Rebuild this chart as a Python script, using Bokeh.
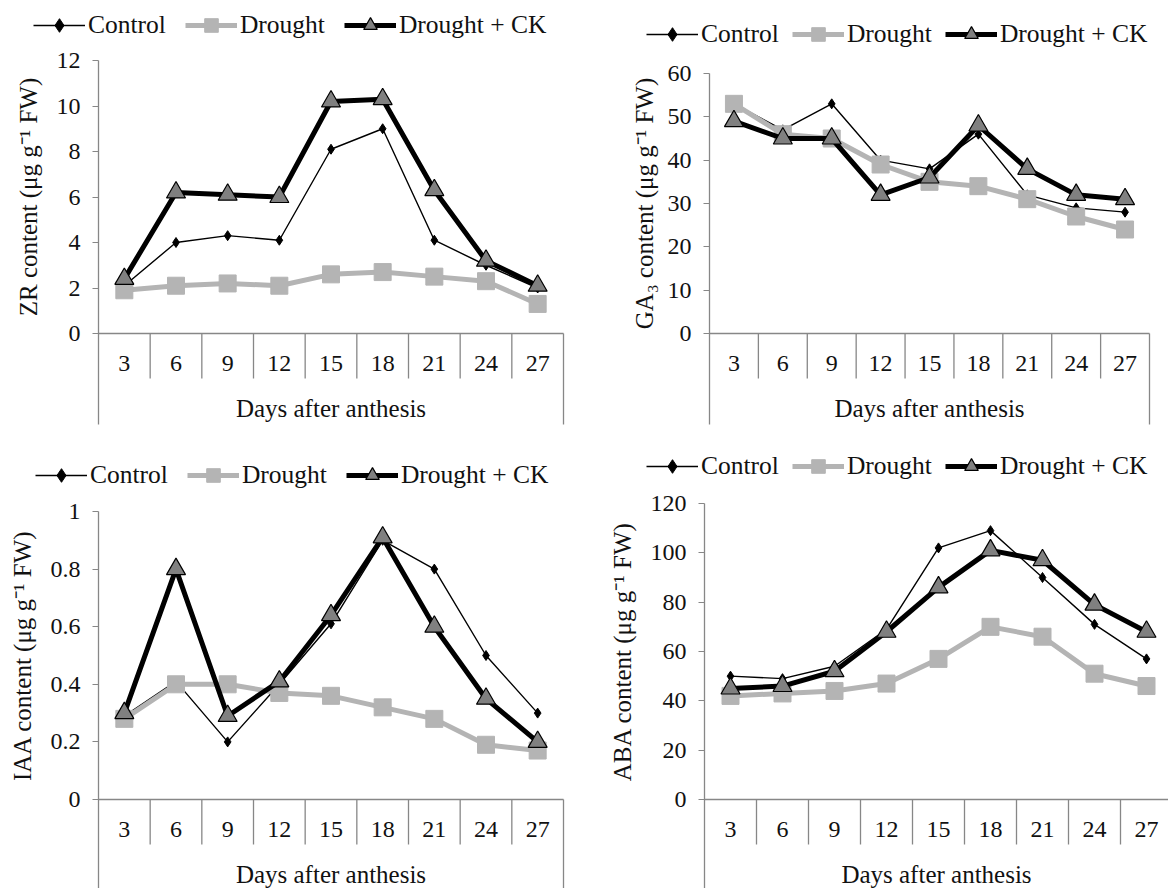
import math
from bokeh.plotting import figure
from bokeh.models import (Range1d, LinearAxis, FixedTicker, Legend, LegendItem, Label)
from bokeh.layouts import column, row
from bokeh.embed import file_html
from bokeh.resources import INLINE

# ---------------- data ----------------
days = ["3", "6", "9", "12", "15", "18", "21", "24", "27"]
series_names = ["Control", "Drought", "Drought + CK"]

zr_control = [2.1, 4.0, 4.3, 4.1, 8.1, 9.0, 4.1, 3.0, 2.0]
zr_drought = [1.9, 2.1, 2.2, 2.1, 2.6, 2.7, 2.5, 2.3, 1.3]
zr_drought_ck = [2.4, 6.2, 6.1, 6.0, 10.2, 10.3, 6.3, 3.2, 2.1]

ga3_control = [53, 47, 53, 40, 38, 46, 32, 29, 28]
ga3_drought = [53, 46, 45, 39, 35, 34, 31, 27, 24]
ga3_drought_ck = [49, 45, 45, 32, 36, 48, 38, 32, 31]

iaa_control = [0.29, 0.41, 0.20, 0.40, 0.61, 0.90, 0.80, 0.50, 0.30]
iaa_drought = [0.28, 0.40, 0.40, 0.37, 0.36, 0.32, 0.28, 0.19, 0.17]
iaa_drought_ck = [0.30, 0.80, 0.29, 0.41, 0.64, 0.91, 0.60, 0.35, 0.20]

aba_control = [50, 49, 54, 69, 102, 109, 90, 71, 57]
aba_drought = [42, 43, 44, 47, 57, 70, 66, 51, 46]
aba_drought_ck = [45, 46, 52, 68, 86, 101, 97, 79, 68]

zr_ticks = [0, 2, 4, 6, 8, 10, 12]
ga3_ticks = [0, 10, 20, 30, 40, 50, 60]
iaa_ticks = [0, 0.2, 0.4, 0.6, 0.8, 1]
aba_ticks = [0, 20, 40, 60, 80, 100, 120]
zr_tick_labels = ["0", "2", "4", "6", "8", "10", "12"]
ga3_tick_labels = ["0", "10", "20", "30", "40", "50", "60"]
iaa_tick_labels = ["0", "0.2", "0.4", "0.6", "0.8", "1"]
aba_tick_labels = ["0", "20", "40", "60", "80", "100", "120"]

x_title = "Days after anthesis"
zr_title = "ZR content (\u03bcg g\u207b\u00b9 FW)"
ga3_title = "GA\u2083 content (\u03bcg g\u207b\u00b9 FW)"
iaa_title = "IAA content (\u03bcg g\u207b\u00b9 FW)"
aba_title = "ABA content (\u03bcg g\u207b\u00b9 FW)"

# ---------------- style ----------------
FONT = "Liberation Serif"
GREY_AXIS = "#878787"
DROUGHT_GREY = "#b4b4b4"
TRI_FILL = "#808080"
TXT = "#111111"


def make_panel(ytitle, ticks, tick_labels, ctrl, drt, dck, W, H, ax_left, ax_right, top_px,
               zero_px, table_bottom_px, legend_left, legend_cy, legend_spacing, title_x):
    n = len(days)
    xs = [i + 0.5 for i in range(n)]
    cw = (ax_right - ax_left) / n
    x_start = -ax_left / cw
    x_end = n + (W - ax_right) / cw
    ymax = ticks[-1]
    ppu = (zero_px - top_px) / ymax
    y_top = ymax + top_px / ppu
    y_bottom = -(H - zero_px) / ppu
    y_table = -(table_bottom_px - zero_px) / ppu
    y_sep = -45 / ppu

    p = figure(width=W, height=H, x_range=Range1d(x_start, x_end),
               y_range=Range1d(y_bottom, y_top),
               x_axis_location=None, y_axis_location=None,
               output_backend="svg", toolbar_location=None, min_border=0)
    p.min_border_left = p.min_border_right = p.min_border_top = p.min_border_bottom = 0
    p.outline_line_color = None
    p.grid.grid_line_color = None
    p.background_fill_color = "white"
    p.border_fill_color = "white"

    # y axis (fixed at the start of the categories)
    yax = LinearAxis(ticker=FixedTicker(ticks=ticks), fixed_location=0,
                     bounds=(y_table, ymax))
    yax.major_label_overrides = {t: s for t, s in zip(ticks, tick_labels)}
    yax.axis_line_color = GREY_AXIS
    yax.axis_line_width = 1.3
    yax.major_tick_line_color = GREY_AXIS
    yax.major_tick_out = 6
    yax.major_tick_in = 0
    yax.minor_tick_line_color = None
    yax.major_label_standoff = 12
    yax.major_label_text_font = FONT
    yax.major_label_text_font_size = "24px"
    yax.major_label_text_color = TXT
    p.add_layout(yax, "left")

    # x axis (day labels) fixed at y = 0
    xax = LinearAxis(ticker=FixedTicker(ticks=xs), fixed_location=0, bounds=(0, n))
    xax.major_label_overrides = {x: d for x, d in zip(xs, days)}
    xax.axis_line_color = GREY_AXIS
    xax.axis_line_width = 1.3
    xax.major_tick_line_color = None
    xax.minor_tick_line_color = None
    xax.major_tick_out = 0
    xax.major_tick_in = 0
    xax.major_label_standoff = 22
    xax.major_label_text_font = FONT
    xax.major_label_text_font_size = "24px"
    xax.major_label_text_color = TXT
    xax.axis_label = x_title
    xax.axis_label_standoff = 21
    xax.axis_label_text_font = FONT
    xax.axis_label_text_font_size = "25px"
    xax.axis_label_text_font_style = "normal"
    xax.axis_label_text_color = TXT
    p.add_layout(xax, "below")

    # separators of the category table
    bounds = list(range(1, n))
    p.segment(x0=bounds, y0=[0] * len(bounds), x1=bounds, y1=[y_sep] * len(bounds),
              line_color=GREY_AXIS, line_width=1.3)
    p.segment(x0=[n], y0=[0], x1=[n], y1=[y_table], line_color=GREY_AXIS, line_width=1.3)

    # series
    l1 = p.line(xs, ctrl, line_color="black", line_width=1.4, line_join="round")
    s1 = p.scatter(xs, ctrl, marker="diamond", size=10, fill_color="black", line_color="black")
    l2 = p.line(xs, drt, line_color=DROUGHT_GREY, line_width=5, line_join="round")
    s2 = p.scatter(xs, drt, marker="square", size=17, fill_color=DROUGHT_GREY,
                   line_color=DROUGHT_GREY)
    l3 = p.line(xs, dck, line_color="black", line_width=5, line_join="round")
    s3 = p.scatter(xs, dck, marker="triangle", size=19, fill_color=TRI_FILL,
                   line_color="black", line_width=1.2)

    leg_h = 34
    legend = Legend(items=[LegendItem(label=series_names[0], renderers=[l1, s1]),
                           LegendItem(label=series_names[1], renderers=[l2, s2]),
                           LegendItem(label=series_names[2], renderers=[l3, s3])],
                    orientation="horizontal",
                    location=(legend_left, H - legend_cy - leg_h / 2),
                    glyph_width=52, glyph_height=leg_h, label_height=leg_h,
                    label_standoff=3, spacing=legend_spacing, padding=0, margin=0,
                    border_line_color=None, background_fill_alpha=0,
                    label_text_font=FONT, label_text_font_size="25.5px",
                    label_text_color=TXT)
    p.add_layout(legend)

    p.add_layout(Label(x=title_x, y=ymax / 2, x_units="screen", y_units="data",
                       text=ytitle, angle=math.pi / 2, text_align="center",
                       text_baseline="middle", text_font=FONT, text_font_size="25px",
                       text_color=TXT))
    return p


p1 = make_panel(zr_title, zr_ticks, zr_tick_labels, zr_control, zr_drought, zr_drought_ck,
                W=590, H=440, ax_left=98, ax_right=563, top_px=60, zero_px=333,
                table_bottom_px=424, legend_left=33, legend_cy=25, legend_spacing=19,
                title_x=28)
p2 = make_panel(ga3_title, ga3_ticks, ga3_tick_labels, ga3_control, ga3_drought,
                ga3_drought_ck,
                W=578, H=440, ax_left=119, ax_right=559, top_px=73, zero_px=333,
                table_bottom_px=424, legend_left=56, legend_cy=34, legend_spacing=13,
                title_x=54)
p3 = make_panel(iaa_title, iaa_ticks, iaa_tick_labels, iaa_control, iaa_drought,
                iaa_drought_ck,
                W=590, H=448, ax_left=98, ax_right=563, top_px=71, zero_px=359,
                table_bottom_px=460, legend_left=35, legend_cy=35, legend_spacing=19,
                title_x=22)
p4 = make_panel(aba_title, aba_ticks, aba_tick_labels, aba_control, aba_drought,
                aba_drought_ck,
                W=578, H=448, ax_left=114, ax_right=582, top_px=63, zero_px=359,
                table_bottom_px=460, legend_left=56, legend_cy=26, legend_spacing=13,
                title_x=32)

layout = column(row(p1, p2), row(p3, p4))

with open("out.html", "w") as f:
    f.write(file_html(layout, INLINE))
